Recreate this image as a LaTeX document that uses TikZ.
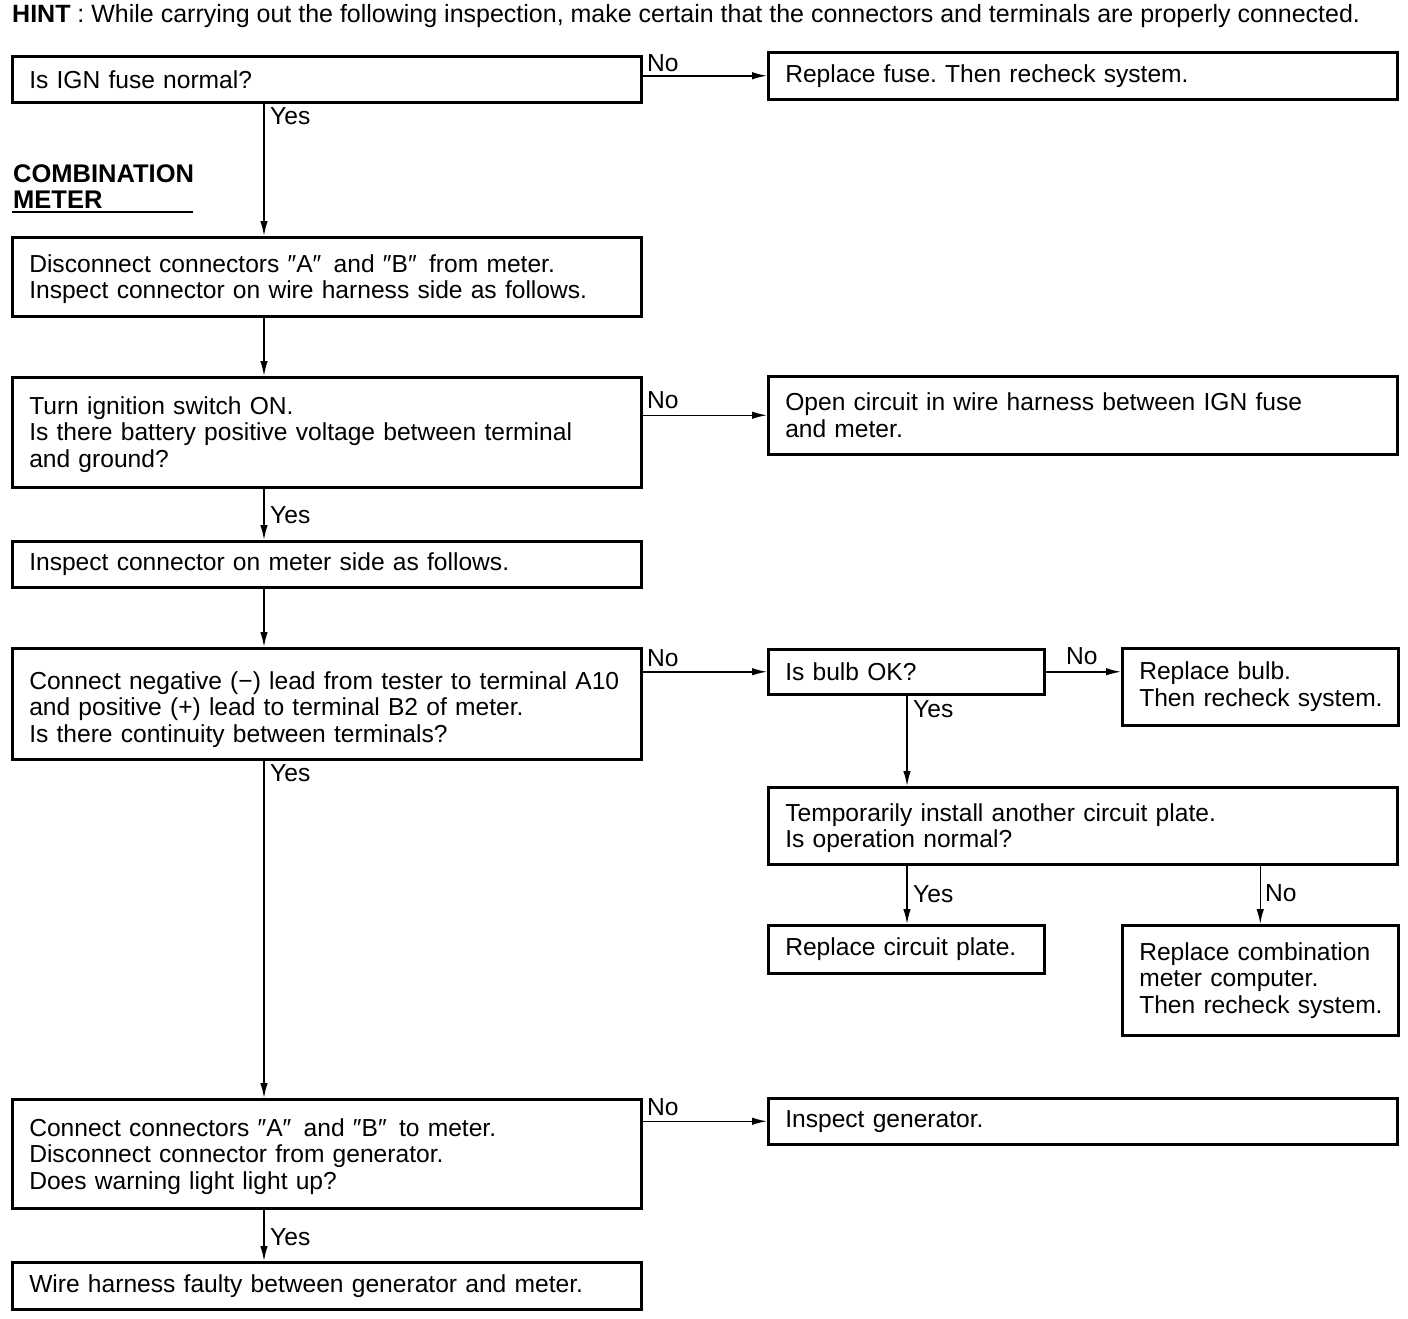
\documentclass[tikz,border=0pt]{standalone}
\usepackage{fontspec}
\setmainfont{Liberation Sans}
\usetikzlibrary{arrows.meta}
\newcommand\strutup[1]{\rule{0pt}{#1}}
\begin{document}
\frenchspacing
\begin{tikzpicture}[x=1pt,y=-1pt,
  every node/.style={font=\fontsize{24.6}{26.5}\selectfont},
  boxw/.style={draw,line width=2.5pt,anchor=north west,inner xsep=17pt,inner ysep=0pt,align=left,execute at begin node={\hyphenpenalty=10000\exhyphenpenalty=10000}},
  wide/.style={boxw,minimum width=629pt,text width=595pt},
  narrow/.style={boxw,minimum width=276pt,text width=242pt},
  lbl/.style={anchor=west,inner sep=0pt},
  arr/.style={line width=1.5pt,-{Latex[length=15pt,width=7.5pt]}}]
\useasboundingbox (0,0) rectangle (1408,1318);
\node[anchor=west,inner sep=0pt,font=\fontsize{25}{26.5}\selectfont] (hint) at (12,16) {\textbf{HINT} : While carrying out the following inspection, make certain that the connectors and terminals are properly connected.};
\node[wide,minimum height=46pt] (b1) at (11,55) {Is IGN fuse normal?};
\node[wide,minimum height=47pt] (r1) at (767,51) {Replace fuse. Then recheck system.};
\node[anchor=north west,inner sep=0pt,align=left,font=\fontsize{25.5}{26.5}\selectfont\bfseries] (hdr) at (13,164) {COMBINATION\\METER};
\coordinate (u1) at (12,212);
\coordinate (u2) at (193,212);
\draw[line width=2pt] (u1) -- (u2);
\node[wide,minimum height=79pt] (b2) at (11,236) {\strutup{23pt}Disconnect connectors ″A″\, and ″B″\, from meter.\\Inspect connector on wire harness side as follows.};
\node[wide,minimum height=110pt] (b3) at (11,376) {\strutup{22pt}Turn ignition switch ON.\\Is there battery positive voltage between terminal\\and ground?};
\node[wide,minimum height=78pt] (r3) at (767,375) {Open circuit in wire harness between IGN fuse\\and meter.};
\node[wide,minimum height=46pt] (b4) at (11,540) {Inspect connector on meter side as follows.};
\node[wide,minimum height=111pt] (b5) at (11,647) {\strutup{29pt}Connect negative (−) lead from tester to terminal A10\\and positive (+) lead to terminal B2 of meter.\\Is there continuity between terminals?};
\node[narrow,minimum height=45pt] (bulb) at (767,648) {Is bulb OK?};
\node[narrow,minimum height=77pt] (rbulb) at (1121,647) {\mbox{Replace bulb.}\\\mbox{Then recheck system.}};
\node[wide,minimum height=77pt] (temp) at (767,786) {\strutup{23pt}Temporarily install another circuit plate.\\Is operation normal?};
\node[narrow,minimum height=48pt] (rcp) at (767,924) {Replace circuit plate.};
\node[narrow,minimum height=110pt] (rcomb) at (1121,924) {\mbox{Replace combination}\\\mbox{meter computer.}\\\mbox{Then recheck system.}};
\node[wide,minimum height=109pt] (b6) at (11,1098) {\strutup{23pt}Connect connectors ″A″\, and ″B″\, to meter.\\Disconnect connector from generator.\\Does warning light light up?};
\node[wide,minimum height=46pt] (gen) at (767,1097) {Inspect generator.};
\node[wide,minimum height=47pt] (b7) at (11,1261) {Wire harness faulty between generator and meter.};
% connectors
\coordinate (cx) at (264,0);
\coordinate (cy) at (907,0);
\draw[arr] (b1.east |- r1.west) -- (r1.west);
\node[lbl] (n1) at (647,63) {No};
\draw[arr] (b1.south -| cx) -- (b2.north -| cx);
\node[lbl] (y1) at (270,116) {Yes};
\draw[arr] (b2.south -| cx) -- (b3.north -| cx);
\draw[arr] (b3.east |- r3.west) -- (r3.west);
\node[lbl] (n2) at (647,400) {No};
\draw[arr] (b3.south -| cx) -- (b4.north -| cx);
\node[lbl] (y2) at (270,515) {Yes};
\draw[arr] (b4.south -| cx) -- (b5.north -| cx);
\draw[arr] (b5.east |- bulb.west) -- (bulb.west);
\node[lbl] (n3) at (647,658) {No};
\draw[arr] (bulb.east) -- (bulb.east -| rbulb.west);
\node[lbl] (n4) at (1066,656) {No};
\draw[arr] (bulb.south -| cy) -- (temp.north -| cy);
\node[lbl] (y3) at (913,709) {Yes};
\draw[arr] (temp.south -| cy) -- (rcp.north -| cy);
\node[lbl] (y4) at (913,894) {Yes};
\draw[arr] (temp.south -| rcomb.north) -- (rcomb.north);
\node[lbl] (n5) at (1265,893) {No};
\draw[arr] (b5.south -| cx) -- (b6.north -| cx);
\node[lbl] (y5) at (270,773) {Yes};
\draw[arr] (b6.east |- gen.west) -- (gen.west);
\node[lbl] (n6) at (647,1107) {No};
\draw[arr] (b6.south -| cx) -- (b7.north -| cx);
\node[lbl] (y6) at (270,1237) {Yes};
\end{tikzpicture}
\end{document}
